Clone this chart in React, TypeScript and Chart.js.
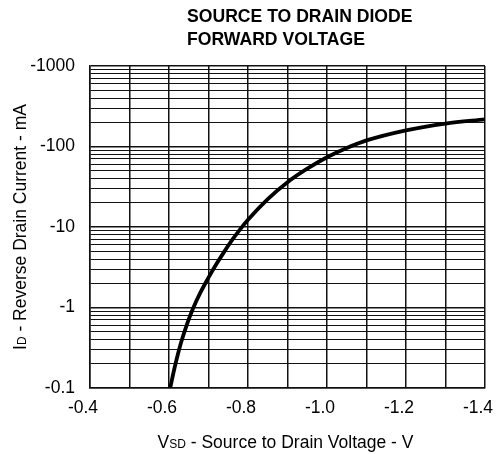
import React, { useEffect, useRef } from "react";
import { Chart, registerables } from "chart.js";

Chart.register(...registerables);

// ---- data ----
const TITLE_LINES = ["SOURCE TO DRAIN DIODE", "FORWARD VOLTAGE"];
const VSD_VOLTS = [-0.603, -0.615, -0.63, -0.645, -0.66, -0.68, -0.7, -0.72, -0.74, -0.76, -0.78, -0.8, -0.85, -0.9, -0.95, -1.0, -1.05, -1.1, -1.2, -1.3, -1.4];
// reverse drain current magnitudes in mA (shown as negative on the axis)
const ID_MA = [0.1, 0.186, 0.36, 0.61, 0.95, 1.55, 2.35, 3.46, 4.95, 6.9, 9.35, 12.3, 22.2, 36, 53, 73.5, 95.7, 119, 159, 193, 217];
const Y_DECADES = [0.1, 1, 10, 100, 1000];
const Y_MULTIPLIERS = [1, 2, 3, 4, 5, 6, 7, 8, 9];
const X_MIN = -1.4;
const X_MAX = -0.4;
const X_STEP = 0.1;

const FONT = '"Liberation Sans", Arial, Helvetica, sans-serif';

function buildYTicks(): number[] {
  const out: number[] = [];
  for (let i = 0; i < Y_DECADES.length - 1; i++) {
    for (const m of Y_MULTIPLIERS) out.push(+(Y_DECADES[i] * m).toPrecision(6));
  }
  out.push(Y_DECADES[Y_DECADES.length - 1]);
  return out;
}

type Seg = { text: string; size: number };

function drawSegments(ctx: CanvasRenderingContext2D, segs: Seg[]) {
  let total = 0;
  for (const s of segs) {
    ctx.font = `${s.size}px ${FONT}`;
    total += ctx.measureText(s.text).width;
  }
  let x = -total / 2;
  for (const s of segs) {
    ctx.font = `${s.size}px ${FONT}`;
    ctx.fillText(s.text, x, 0);
    x += ctx.measureText(s.text).width;
  }
}

const titlesPlugin = {
  id: "customTitles",
  afterDraw(chart: any) {
    const ctx: CanvasRenderingContext2D = chart.ctx;
    const a = chart.chartArea;
    ctx.save();
    ctx.fillStyle = "#000";
    ctx.textAlign = "left";
    ctx.textBaseline = "alphabetic";
    // main title (left aligned block)
    ctx.font = `bold 17.6px ${FONT}`;
    TITLE_LINES.forEach((t, i) => ctx.fillText(t, a.left + 97, 22 + i * 23));
    // x axis title
    ctx.save();
    ctx.translate((a.left + a.right) / 2 - 2, 448);
    drawSegments(ctx, [
      { text: "V", size: 17.5 },
      { text: "SD", size: 12 },
      { text: " - Source to Drain Voltage - V", size: 17.5 },
    ]);
    ctx.restore();
    // y axis title
    ctx.save();
    ctx.translate(26, (a.top + a.bottom) / 2);
    ctx.rotate(-Math.PI / 2);
    drawSegments(ctx, [
      { text: "I", size: 17.5 },
      { text: "D", size: 12 },
      { text: " - Reverse Drain Current - mA", size: 17.5 },
    ]);
    ctx.restore();
    ctx.restore();
  },
};

export default function App() {
  const ref = useRef<HTMLCanvasElement | null>(null);

  useEffect(() => {
    if (!ref.current) return;
    const yTicks = buildYTicks();
    const chart = new Chart(ref.current, {
      type: "line",
      data: {
        datasets: [
          {
            data: VSD_VOLTS.map((v, i) => ({ x: v, y: ID_MA[i] })),
            borderColor: "#000",
            borderWidth: 3.8,
            pointRadius: 0,
            fill: false,
            cubicInterpolationMode: "monotone",
          },
        ],
      },
      options: {
        responsive: false,
        animation: false,
        devicePixelRatio: 1,
        layout: { padding: { top: 66, right: 11, left: 0, bottom: 0 } },
        plugins: { legend: { display: false }, tooltip: { enabled: false }, title: { display: false } },
        scales: {
          x: {
            type: "linear",
            min: X_MIN,
            max: X_MAX,
            reverse: true,
            grid: { color: "#111", lineWidth: 1.5, drawTicks: false },
            border: { display: true, color: "#111", width: 1.5 },
            ticks: {
              stepSize: X_STEP,
              autoSkip: false,
              maxRotation: 0,
              padding: 10,
              labelOffset: -7,
              color: "#000",
              font: { family: FONT, size: 17.5 },
              callback: (v: any) => {
                const n = Math.round(Number(v) * 10);
                return n % 2 === 0 ? (n / 10).toFixed(1) : "";
              },
            },
            afterFit: (s: any) => {
              s.height = 66;
              s.paddingLeft = 0;
              s.paddingRight = 0;
            },
          },
          y: {
            type: "logarithmic",
            min: Y_DECADES[0],
            max: Y_DECADES[Y_DECADES.length - 1],
            grid: {
              color: "#111",
              drawTicks: false,
              lineWidth: (c: any) => (Y_DECADES.includes(c.tick?.value) ? 1.5 : 1),
            },
            border: { display: true, color: "#111", width: 1.5 },
            afterBuildTicks: (s: any) => {
              s.ticks = yTicks.map((v) => ({ value: v }));
            },
            ticks: {
              autoSkip: false,
              padding: 15,
              color: "#000",
              font: { family: FONT, size: 17.5 },
              callback: (v: any) => (Y_DECADES.includes(Number(v)) ? "-" + Number(v) : ""),
            },
            afterFit: (s: any) => {
              s.width = 90;
              s.paddingTop = 0;
              s.paddingBottom = 0;
            },
          },
        },
      },
      plugins: [titlesPlugin],
    } as any);
    return () => chart.destroy();
  }, []);

  return (
    <div style={{ position: "absolute", left: 0, top: 0, width: 496, height: 454, background: "#fff" }}>
      <canvas ref={ref} width={496} height={454} style={{ display: "block" }} />
    </div>
  );
}
